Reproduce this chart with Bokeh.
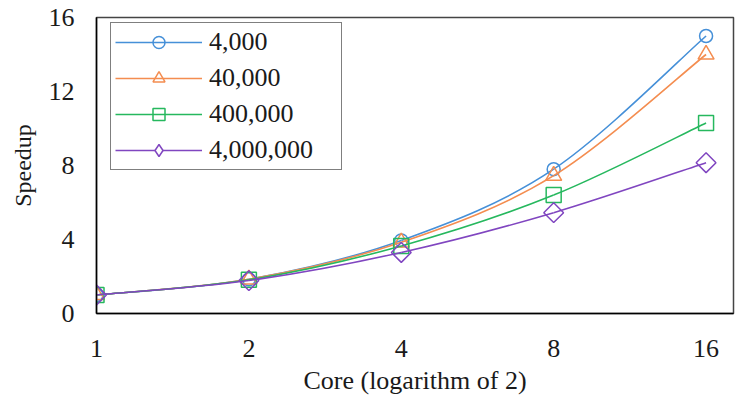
import numpy as np
from bokeh.plotting import figure
from bokeh.models import Legend, LegendItem, FixedTicker, Range1d
from bokeh.embed import file_html
from bokeh.resources import INLINE

# Speedup versus number of cores for four problem sizes
cores = [1, 2, 4, 8, 16]
speedup_4k = [1.0, 1.85, 3.95, 7.8, 15.0]
speedup_40k = [1.0, 1.85, 3.85, 7.45, 14.0]
speedup_400k = [1.0, 1.82, 3.65, 6.4, 10.3]
speedup_4m = [1.0, 1.78, 3.3, 5.45, 8.15]
series_labels = ["4,000", "40,000", "400,000", "4,000,000"]
x_tick_labels = ["1", "2", "4", "8", "16"]
y_ticks = [0, 4, 8, 12, 16]

FONT = "Liberation Serif"
TEXT_COLOR = "#1a1a1a"
colors = ["#4690D8", "#F48D50", "#26B85E", "#8046C0"]

p = figure(width=735, height=402, output_backend="svg", toolbar_location=None,
           x_range=Range1d(0, 4.18), y_range=Range1d(0, 16),
           min_border_left=96, min_border_right=2, min_border_top=17,
           min_border_bottom=89)

p.xgrid.visible = False
p.ygrid.visible = False
p.outline_line_color = "#444444"
p.outline_line_width = 1.5

# cores are spaced evenly on a base-2 log scale
x_log = np.log2(cores)


def smooth_segments(xs, ys):
    """Cubic Bezier control points for a smoothed line through the points."""
    xs = np.asarray(xs, float)
    ys = np.asarray(ys, float)
    n = len(xs)
    px = np.concatenate([[xs[0]], xs, [xs[-1]]])
    py = np.concatenate([[ys[0]], ys, [ys[-1]]])
    out = {k: [] for k in ("x0", "y0", "x1", "y1", "cx0", "cy0", "cx1", "cy1")}
    for i in range(n - 1):
        a, b = i + 1, i + 2
        out["x0"].append(px[a]); out["y0"].append(py[a])
        out["x1"].append(px[b]); out["y1"].append(py[b])
        out["cx0"].append(px[a] + (px[b] - px[a - 1]) / 6.0)
        out["cy0"].append(py[a] + (py[b] - py[a - 1]) / 6.0)
        out["cx1"].append(px[b] - (px[b + 1] - px[a]) / 6.0)
        out["cy1"].append(py[b] - (py[b + 1] - py[a]) / 6.0)
    return out


series = [speedup_4k, speedup_40k, speedup_400k, speedup_4m]
# (marker in plot, size, angle, marker in legend key)
markers = [("circle", 13, 0.0, "circle"), ("triangle", 16, 0.0, "triangle"),
           ("square", 15, 0.0, "square"), ("square", 14, np.pi / 4, "diamond")]

items = []
for vals, col, (mk, sz, ang, lmk), lab in zip(series, colors, markers, series_labels):
    seg = smooth_segments(x_log, vals)
    curve = p.bezier(x0="x0", y0="y0", x1="x1", y1="y1", cx0="cx0", cy0="cy0",
                     cx1="cx1", cy1="cy1", source=seg, line_color=col, line_width=1.6)
    pts = p.scatter(x=x_log, y=vals, marker=mk, size=sz, angle=ang,
                    fill_color="white", fill_alpha=0.0, line_color=col, line_width=1.5)
    if lmk != mk:
        # hidden renderer that only supplies the legend key symbol
        key = p.scatter(x=x_log, y=vals, marker=lmk, size=14, fill_color="white",
                        line_color=col, line_width=1.5, visible=False)
        items.append(LegendItem(label=lab, renderers=[curve, key]))
    else:
        items.append(LegendItem(label=lab, renderers=[curve, pts]))

legend = Legend(items=items, location=(14, 143), orientation="vertical")
legend.border_line_color = "black"
legend.border_line_width = 1.5
legend.padding = 4
legend.margin = 0
legend.spacing = 6
legend.glyph_height = 30
legend.glyph_width = 87
legend.label_standoff = 7
legend.label_width = 128
legend.label_height = 30
legend.label_text_font = FONT
legend.label_text_font_size = "26px"
legend.label_text_color = TEXT_COLOR
p.add_layout(legend, "center")

# axes
p.xaxis.ticker = FixedTicker(ticks=list(range(len(cores))))
p.xaxis.major_label_overrides = {i: t for i, t in enumerate(x_tick_labels)}
p.yaxis.ticker = FixedTicker(ticks=y_ticks)
for ax in (p.xaxis, p.yaxis):
    ax.axis_line_color = "black"
    ax.axis_line_width = 1.5
    ax.major_tick_line_color = None
    ax.minor_tick_line_color = None
    ax.major_label_text_font = FONT
    ax.major_label_text_font_size = "26px"
    ax.major_label_text_color = TEXT_COLOR
    ax.axis_label_text_font = FONT
    ax.axis_label_text_font_size = "26px"
    ax.axis_label_text_font_style = "normal"
    ax.axis_label_text_color = TEXT_COLOR

p.yaxis.axis_label_text_font_size = "24px"
p.xaxis.axis_label = "Core (logarithm of 2)"
p.yaxis.axis_label = "Speedup"
p.xaxis.major_label_standoff = 20
p.yaxis.major_label_standoff = 16
p.xaxis.axis_label_standoff = 6
p.yaxis.axis_label_standoff = 10

open("out.html", "w").write(file_html(p, INLINE))
